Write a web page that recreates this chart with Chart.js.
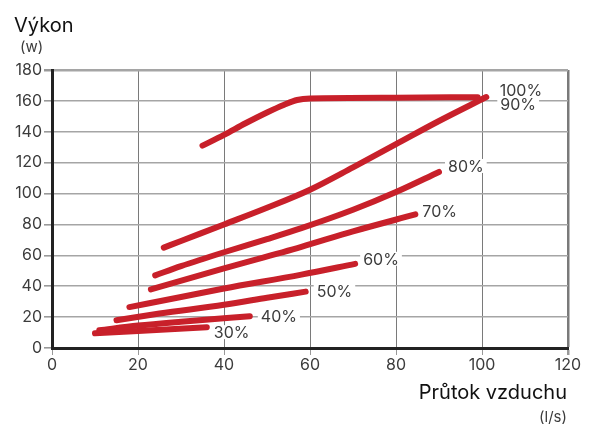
<!DOCTYPE html>
<html>
<head>
<meta charset="utf-8">
<script src="https://cdn.jsdelivr.net/npm/chart.js@4/dist/chart.umd.min.js"></script>
<style>
    html, body { margin: 0; padding: 0; background: #fff; }
    .wrap { position: relative; width: 591px; height: 425px; }
</style>
</head>
<body>
<div class="wrap"><canvas id="chart"></canvas></div>
<script>
// Výkon ventilátoru podle průtoku, jedna křivka na každý stupeň otáček
const seriesLabels = ['100%', '90%', '80%', '70%', '60%', '50%', '40%', '30%'];

const flow100 = [35, 40, 45, 50, 54, 57, 60, 80, 99];
const power100 = [131, 138, 145.5, 152.5, 157.5, 160.6, 161.6, 162.1, 162.4];

const flow90 = [26, 30, 40, 50, 60, 70, 80, 90, 101];
const power90 = [65, 69.3, 80, 90.8, 102.5, 117, 132, 147, 162.5];

const flow80 = [24, 30, 40, 50, 58, 70, 80, 90];
const power80 = [47, 53, 62, 70.5, 77.6, 89.5, 101, 114];

const flow70 = [23, 40, 58, 70, 84.5];
const power70 = [38, 51.5, 65.5, 75.5, 86.5];

const flow60 = [18, 30, 40, 58, 70.5];
const power60 = [26.5, 33, 38.5, 47.5, 54.5];

const flow50 = [15, 25, 40, 50, 59];
const power50 = [18, 22.3, 28, 32.5, 36.5];

const flow40 = [11, 20, 30, 46];
const power40 = [11.5, 14.5, 17, 20.5];

const flow30 = [10, 20, 36];
const power30 = [9.5, 11, 13.5];

const xTicks = [0, 20, 40, 60, 80, 100, 120];
const yTicks = [0, 20, 40, 60, 80, 100, 120, 140, 160, 180];

(function() {
    'use strict';

    const FONT = 'Inter, "Open Sans", sans-serif';
    const RED = '#c8202a';
    const TEXT = '#3c3c3c';

    // posun popisku od posledního bodu křivky (px)
    const labelOffsets = {
        '100%': [22, -7],
        '90%': [14, 7],
        '80%': [9, -6],
        '70%': [7, -3],
        '60%': [8, -5],
        '50%': [11, 0],
        '40%': [11, 0],
        '30%': [7, 5]
    };

    const flows = [flow100, flow90, flow80, flow70, flow60, flow50, flow40, flow30];
    const powers = [power100, power90, power80, power70, power60, power50, power40, power30];

    const datasets = seriesLabels.map((label, i) => ({
        label,
        data: flows[i].map((x, j) => ({ x, y: powers[i][j] })),
        borderColor: RED,
        borderWidth: 6,
        borderCapStyle: 'round',
        borderJoinStyle: 'round',
        pointRadius: 0,
        cubicInterpolationMode: 'monotone',
        fill: false
    }));

    /**
     * popisky křivek s bílým pozadím + nadpisy os
     */
    const annotations = {
        id: 'annotations',
        afterDatasetsDraw(chart) {
            const { ctx, scales: { x, y } } = chart;
            ctx.save();
            ctx.font = '16px ' + FONT;
            ctx.textBaseline = 'middle';
            ctx.textAlign = 'left';
            datasets.forEach(ds => {
                const last = ds.data[ds.data.length - 1];
                const off = labelOffsets[ds.label];
                const px = x.getPixelForValue(last.x) + off[0];
                const py = y.getPixelForValue(last.y) + off[1];
                const w = ctx.measureText(ds.label).width;
                ctx.fillStyle = '#fff';
                ctx.fillRect(px - 3, py - 7, w + 6, 14);
                ctx.fillStyle = TEXT;
                ctx.fillText(ds.label, px, py + 1);
            });
            ctx.restore();
        },
        afterDraw(chart) {
            const { ctx } = chart;
            ctx.save();
            ctx.textBaseline = 'alphabetic';
            ctx.fillStyle = '#111';
            ctx.font = '20px ' + FONT;
            ctx.textAlign = 'left';
            ctx.fillText('Výkon', 14, 32);
            ctx.textAlign = 'right';
            ctx.fillText('Průtok vzduchu', 567, 399);
            ctx.fillStyle = TEXT;
            ctx.font = '15px ' + FONT;
            ctx.textAlign = 'left';
            ctx.fillText('(w)', 20, 52);
            ctx.textAlign = 'right';
            ctx.fillText('(l/s)', 567, 422);
            ctx.restore();
        }
    };

    new Chart(document.getElementById('chart'), {
        type: 'line',
        data: { datasets },
        options: {
            responsive: true,
            maintainAspectRatio: false,
            animation: false,
            layout: { padding: { left: 0, top: 70, right: 23, bottom: 0 } },
            plugins: { legend: { display: false }, tooltip: { enabled: false } },
            scales: {
                x: {
                    type: 'linear',
                    min: 0,
                    max: 120,
                    afterBuildTicks: s => { s.ticks = xTicks.map(value => ({ value })); },
                    afterFit: s => { s.height = 77; },
                    ticks: { color: TEXT, font: { family: FONT, size: 16 }, padding: 1 },
                    grid: {
                        color: '#7a7a7a',
                        lineWidth: c => (c.tick && c.tick.value === 120 ? 2.5 : 1),
                        tickLength: 7,
                        tickColor: '#999'
                    },
                    border: { color: '#222', width: 3 }
                },
                y: {
                    min: 0,
                    max: 180,
                    afterBuildTicks: s => { s.ticks = yTicks.map(value => ({ value })); },
                    afterFit: s => { s.width = 52; },
                    ticks: { color: TEXT, font: { family: FONT, size: 16 }, padding: 2 },
                    grid: {
                        color: '#a5a5a5',
                        lineWidth: c => (c.tick && c.tick.value === 180 ? 2.5 : 1.6),
                        tickLength: 8,
                        tickColor: '#999'
                    },
                    border: { color: '#222', width: 3 }
                }
            }
        },
        plugins: [annotations]
    });
})();
</script>
</body>
</html>
